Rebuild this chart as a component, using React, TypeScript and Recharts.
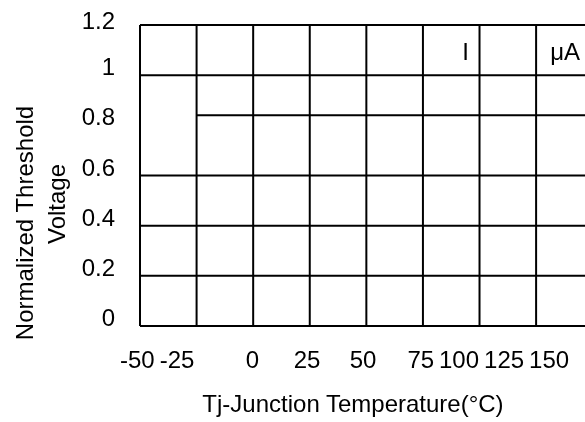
import React from 'react';
import { ComposedChart, XAxis, YAxis, CartesianGrid, ReferenceLine, ReferenceDot } from 'recharts';

// ---- data ----
const xTickValues = [-50, -25, 0, 25, 50, 75, 100, 125, 150];
const xTickLabels = ['-50', '-25', '0', '25', '50', '75', '100', '125', '150'];
const yTickValues = [0, 0.2, 0.4, 0.6, 0.8, 1, 1.2];
const yTickLabels = ['0', '0.2', '0.4', '0.6', '0.8', '1', '1.2'];
const verticalGridValues = [-50, -25, 0, 25, 50, 75, 100, 125];
const horizontalGridValues = [0, 0.2, 0.4, 0.6, 1, 1.2];
const partialLineY = 0.84;
const partialLineStartX = -25;
const annotationTexts = ['I', 'μA'];
const annotationX = [93.8, 131.2];
const annotationY = [1.06, 1.06];
const xTitle = 'Tj-Junction Temperature(°C)';
const yTitleLines = ['Normalized Threshold', 'Voltage'];

// ---- style / layout ----
const FONT = '"Liberation Sans", Arial, sans-serif';
const FS = 24;
const X_MAX = 146.6;
const xLabelDx = [-2.7, -19.6, -0.7, -2.7, -3.3, -2.1, -20.5, -32, -43.6];
const yLabelDy = [0, 0, 0, 0, 0, 0, 4];

const XTick = (props: any) => {
  const { x, y, index } = props;
  return (
    <text x={x + (xLabelDx[index] || 0)} y={y + 42} textAnchor="middle" fontFamily={FONT} fontSize={FS} fill="#000">
      {xTickLabels[index]}
    </text>
  );
};

const YTick = (props: any) => {
  const { x, y, index } = props;
  return (
    <text x={x - 25} y={y + (yLabelDy[index] || 0)} textAnchor="end" fontFamily={FONT} fontSize={FS} fill="#000">
      {yTickLabels[index]}
    </text>
  );
};

const YTitle = (props: any) => {
  const vb = props.viewBox || { x: 0, y: 17, width: 132, height: 301 };
  const cy = vb.y + vb.height / 2;
  return (
    <g>
      <text x={vb.x + 25} y={cy + 47.5} transform={`rotate(-90, ${vb.x + 25}, ${cy + 47.5})`} textAnchor="middle" fontFamily={FONT} fontSize={FS} fill="#000">
        {yTitleLines[0]}
      </text>
      <text x={vb.x + 57} y={cy + 28.5} transform={`rotate(-90, ${vb.x + 57}, ${cy + 28.5})`} textAnchor="middle" fontFamily={FONT} fontSize={FS} fill="#000">
        {yTitleLines[1]}
      </text>
    </g>
  );
};

const XTitle = (props: any) => {
  const vb = props.viewBox || { x: 132, y: 318, width: 445, height: 60 };
  return (
    <text x={345} y={vb.y + 86} textAnchor="middle" fontFamily={FONT} fontSize={FS} fill="#000">
      {xTitle}
    </text>
  );
};

const AnnotText = (anchor: 'middle' | 'start', text: string) => (p: any) => (
  <text x={p.cx} y={p.cy} textAnchor={anchor} fontFamily={FONT} fontSize={FS} fill="#000">
    {text}
  </text>
);

export default function App() {
  return (
    <div style={{ position: 'fixed', left: 8, top: 8, width: 577, height: 414 }}>
      <ComposedChart
        width={577}
        height={414}
        data={[]}
        margin={{ top: 17, right: 0, bottom: 36, left: 0 }}
      >
        <CartesianGrid
          stroke="#000"
          strokeWidth={2}
          verticalValues={verticalGridValues}
          horizontalValues={horizontalGridValues}
        />
        <XAxis
          type="number"
          dataKey="x"
          domain={[-50, X_MAX]}
          ticks={xTickValues}
          interval={0}
          allowDataOverflow
          height={60}
          axisLine={false}
          tickLine={false}
          tickSize={0}
          tickMargin={0}
          tick={<XTick />}
          label={<XTitle />}
        />
        <YAxis
          type="number"
          dataKey="y"
          domain={[0, 1.2]}
          ticks={yTickValues}
          interval={0}
          allowDataOverflow
          width={132}
          axisLine={false}
          tickLine={false}
          tickSize={0}
          tickMargin={0}
          tick={<YTick />}
          label={<YTitle />}
        />
        <ReferenceLine
          segment={[{ x: partialLineStartX, y: partialLineY }, { x: X_MAX, y: partialLineY }]}
          stroke="#000"
          strokeWidth={2}
          ifOverflow="visible"
        />
        {annotationTexts.map((t, i) => (
          <ReferenceDot
            key={t}
            x={annotationX[i]}
            y={annotationY[i]}
            r={0}
            ifOverflow="visible"
            shape={AnnotText(i === 0 ? 'middle' : 'start', t)}
          />
        ))}
      </ComposedChart>
    </div>
  );
}
